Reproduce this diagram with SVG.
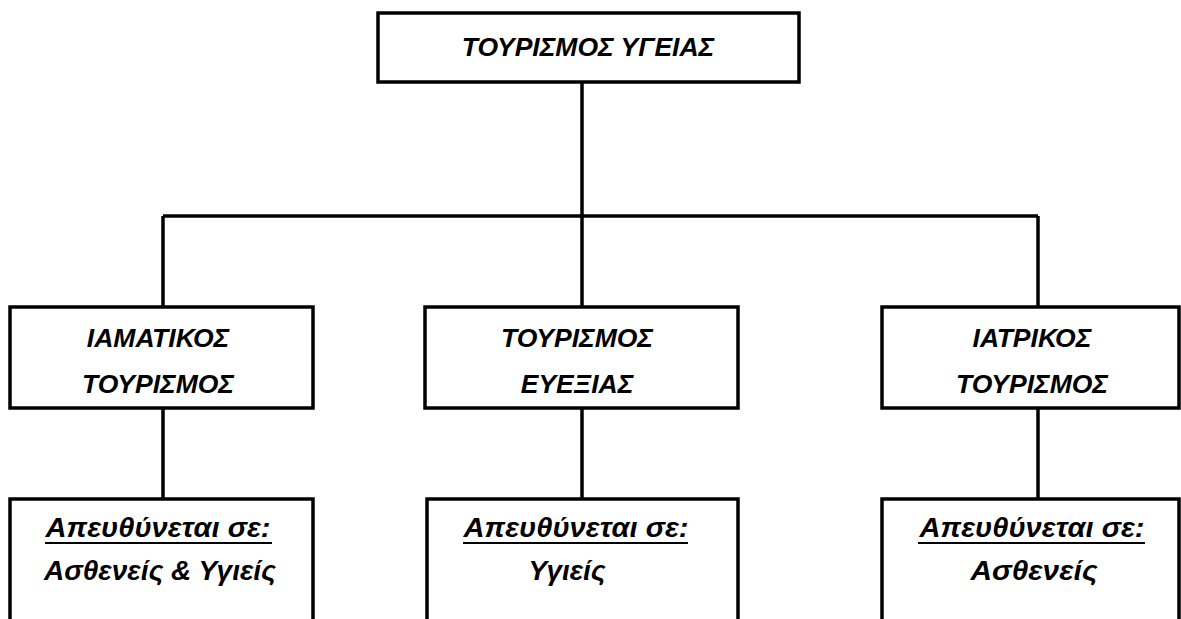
<svg xmlns="http://www.w3.org/2000/svg" width="1181" height="619" viewBox="0 0 1181 619">
  <style>
    .box { fill: #ffffff; stroke: #000000; stroke-width: 3.5; }
    .open { fill: none; stroke: #000000; stroke-width: 3.5; }
    .wire { fill: none; stroke: #000000; stroke-width: 3.5; }
    .lbl { font-family: "Liberation Sans", Arial, sans-serif; font-weight: bold; font-style: italic; font-size: 26.5px; fill: #000000; text-anchor: middle; }
    .small { font-size: 27.5px; }
    .ul { stroke: #000000; stroke-width: 2; }
  </style>
  <rect x="0" y="0" width="1181" height="619" fill="#ffffff"/>

  <!-- connectors -->
  <g id="connectors">
    <path class="wire" d="M582,82 V216"/>
    <path class="wire" d="M163,216 H1038"/>
    <path class="wire" d="M163,216 V307"/>
    <path class="wire" d="M582,216 V307"/>
    <path class="wire" d="M1038,216 V307"/>
    <path class="wire" d="M163,408 V499"/>
    <path class="wire" d="M582,408 V499"/>
    <path class="wire" d="M1038,408 V499"/>
  </g>

  <!-- root -->
  <g id="health-tourism">
    <rect class="box" x="378" y="13" width="421" height="69"/>
    <text class="lbl" x="588" y="56">ΤΟΥΡΙΣΜΟΣ ΥΓΕΙΑΣ</text>
  </g>

  <!-- second level -->
  <g id="spa-tourism">
    <rect class="box" x="10" y="307" width="303" height="101"/>
    <text class="lbl" x="158" y="347">ΙΑΜΑΤΙΚΟΣ</text>
    <text class="lbl" x="158" y="393">ΤΟΥΡΙΣΜΟΣ</text>
  </g>
  <g id="wellness-tourism">
    <rect class="box" x="425" y="307" width="313" height="101"/>
    <text class="lbl" x="577" y="347">ΤΟΥΡΙΣΜΟΣ</text>
    <text class="lbl" x="577" y="393">ΕΥΕΞΙΑΣ</text>
  </g>
  <g id="medical-tourism">
    <rect class="box" x="882" y="307" width="297" height="101"/>
    <text class="lbl" x="1032" y="347">ΙΑΤΡΙΚΟΣ</text>
    <text class="lbl" x="1032" y="393">ΤΟΥΡΙΣΜΟΣ</text>
  </g>

  <!-- target groups -->
  <g id="spa-audience">
    <path class="open" d="M10,621 V499 H313 V621"/>
    <text class="lbl small" x="158" y="537" textLength="225" lengthAdjust="spacingAndGlyphs">Απευθύνεται σε:</text>
    <line class="ul" x1="45" y1="543" x2="272" y2="543"/>
    <text class="lbl small" x="160" y="580" textLength="232" lengthAdjust="spacingAndGlyphs">Ασθενείς &amp; Υγιείς</text>
  </g>
  <g id="wellness-audience">
    <path class="open" d="M427,621 V499 H738 V621"/>
    <text class="lbl small" x="576" y="537" textLength="225" lengthAdjust="spacingAndGlyphs">Απευθύνεται σε:</text>
    <line class="ul" x1="463" y1="543" x2="688" y2="543"/>
    <text class="lbl small" x="567" y="580" textLength="77" lengthAdjust="spacingAndGlyphs">Υγιείς</text>
  </g>
  <g id="medical-audience">
    <path class="open" d="M882,621 V499 H1179 V621"/>
    <text class="lbl small" x="1032" y="537" textLength="225" lengthAdjust="spacingAndGlyphs">Απευθύνεται σε:</text>
    <line class="ul" x1="918" y1="543" x2="1145" y2="543"/>
    <text class="lbl small" x="1034" y="580" textLength="127" lengthAdjust="spacingAndGlyphs">Ασθενείς</text>
  </g>
</svg>
